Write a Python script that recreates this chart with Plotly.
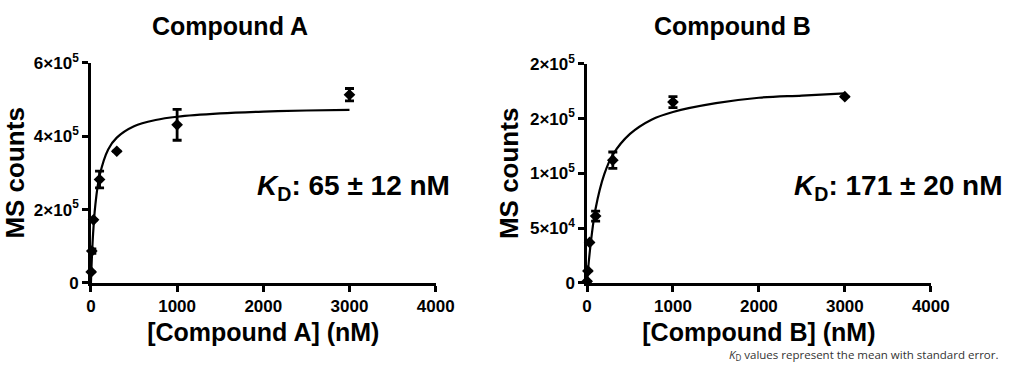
import plotly.graph_objects as go

# ---------------- data ----------------
conc_a = [3, 10, 30, 100, 300, 1000, 3000]
counts_a = [30000, 87000, 172000, 282000, 359000, 431000, 513000]
err_a = [0, 6000, 0, 23000, 0, 42000, 17000]

fit_x_a = [0, 10, 25, 50, 100, 200, 300, 500, 750, 1000, 1500, 2000, 2500, 3000]
fit_y_a = [0, 64000, 134000, 210000, 292000, 364000, 396000, 427000, 444000,
           453000, 462000, 467000, 470000, 472000]

conc_b = [1, 10, 30, 100, 300, 1000, 3000]
counts_b = [1500, 11000, 37000, 61000, 112000, 165000, 170000]
err_b = [0, 0, 0, 4500, 7500, 5000, 0]

fit_x_b = [0, 10, 25, 50, 100, 200, 300, 500, 750, 1000, 1500, 2000, 2500, 3000]
fit_y_b = [0, 10000, 23000, 41000, 68000, 99000, 117000, 136000, 149000,
           156000, 164000, 169000, 171000, 173000]

x_ticks = [0, 1000, 2000, 3000, 4000]
x_labels = ["0", "1000", "2000", "3000", "4000"]
y_ticks_a = [0, 200000, 400000, 600000]
y_labels_a = ["0", "2×10<sup>5</sup>", "4×10<sup>5</sup>", "6×10<sup>5</sup>"]
y_ticks_b = [0, 50000, 100000, 150000, 200000]
y_labels_b = ["0", "5×10<sup>4</sup>", "1×10<sup>5</sup>", "2×10<sup>5</sup>", "2×10<sup>5</sup>"]

titles = ["Compound A", "Compound B"]
x_titles = ["[Compound A] (nM)", "[Compound B] (nM)"]
kd_texts = ["<b><i>K</i><sub>D</sub>: 65 ± 12 nM</b>", "<b><i>K</i><sub>D</sub>: 171 ± 20 nM</b>"]
footnote = "<i>K</i><sub>D</sub> values represent the mean with standard error."

# ---------------- figure ----------------
W, H = 1024, 372
FONT = "Liberation Sans, Arial, sans-serif"
fig = go.Figure()

def bold(labels):
    return ["<b>" + s + "</b>" for s in labels]

def add_panel(xs, ys, errs, fx, fy, xa, ya):
    fig.add_trace(go.Scatter(x=fx, y=fy, mode="lines", line=dict(color="black", width=2.2, shape="spline"),
                             xaxis=xa, yaxis=ya, hoverinfo="skip", showlegend=False, cliponaxis=False))
    fig.add_trace(go.Scatter(x=xs, y=ys, mode="markers",
                             marker=dict(symbol="diamond", size=9, color="black"),
                             error_y=dict(type="data", array=errs, visible=True, color="black",
                                          thickness=2.8, width=4.5),
                             xaxis=xa, yaxis=ya, showlegend=False, cliponaxis=False))

add_panel(conc_a, counts_a, err_a, fit_x_a, fit_y_a, "x", "y")
add_panel(conc_b, counts_b, err_b, fit_x_b, fit_y_b, "x2", "y2")

def px_x(p):
    return p / W

def px_y(p):
    return 1 - p / H

axis_common = dict(showline=True, linecolor="black", linewidth=2.5, ticks="outside", ticklen=6,
                   tickwidth=2.5, tickcolor="black", showgrid=False, zeroline=False,
                   tickfont=dict(family=FONT, size=17, color="black"))
title_font = dict(family=FONT, size=25, color="black")

fig.update_layout(
    width=W, height=H, margin=dict(l=0, r=0, t=0, b=0),
    paper_bgcolor="white", plot_bgcolor="white",
    xaxis=dict(domain=[px_x(88), px_x(441)], range=[0, 4000], tickvals=x_ticks, ticktext=bold(x_labels),
               title=dict(text="<b>" + x_titles[0] + "</b>", font=title_font, standoff=9),
               anchor="y", **axis_common),
    yaxis=dict(domain=[px_y(288), px_y(54)], range=[0, 600000], tickvals=y_ticks_a, ticktext=bold(y_labels_a),
               title=dict(text="<b>MS counts</b>", font=dict(family=FONT, size=26, color="black"), standoff=4),
               anchor="x", **axis_common),
    xaxis2=dict(domain=[px_x(596), px_x(948)], range=[0, 4000], tickvals=x_ticks, ticktext=bold(x_labels),
                title=dict(text="<b>" + x_titles[1] + "</b>", font=title_font, standoff=9),
                anchor="y2", **axis_common),
    yaxis2=dict(domain=[px_y(288), px_y(55)], range=[0, 200000], tickvals=y_ticks_b, ticktext=bold(y_labels_b),
                title=dict(text="<b>MS counts</b>", font=dict(family=FONT, size=26, color="black"), standoff=4),
                anchor="x2", **axis_common),
)

annots = []
for cx, t in zip([230, 745], titles):
    annots.append(dict(x=px_x(cx), y=px_y(15), xref="paper", yref="paper", text="<b>" + t + "</b>",
                       showarrow=False, font=dict(family=FONT, size=25, color="black"),
                       xanchor="center", yanchor="middle"))
for rx, t in zip([458, 1024], kd_texts):
    annots.append(dict(x=px_x(rx), y=px_y(186), xref="paper", yref="paper", text=t,
                       showarrow=False, font=dict(family=FONT, size=28, color="black"),
                       xanchor="right", yanchor="middle"))
annots.append(dict(x=px_x(1019), y=px_y(365), xref="paper", yref="paper", text=footnote,
                   showarrow=False, font=dict(family="Open Sans, sans-serif", size=11.5, color="#333333"),
                   xanchor="right", yanchor="middle"))
fig.update_layout(annotations=annots)

fig.write_html("out.html")
